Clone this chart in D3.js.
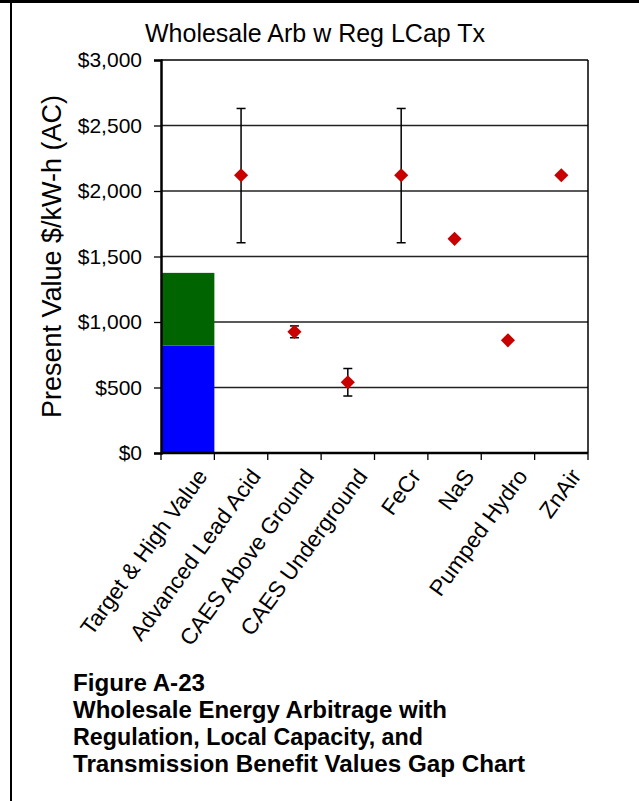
<!DOCTYPE html>
<html><head><meta charset="utf-8">
<script src="https://cdn.jsdelivr.net/npm/d3@7"></script>
<style>
html,body{margin:0;padding:0;background:#fff;}
svg{display:block;font-family:"Liberation Sans",Arial,sans-serif;}
</style></head>
<body>
<script>
// ---- data ----
const chartTitle = "Wholesale Arb w Reg LCap Tx";
const yAxisTitle = "Present Value $/kW-h  (AC)";
const categories = ["Target & High Value","Advanced Lead Acid","CAES Above Ground","CAES Underground","FeCr","NaS","Pumped Hydro","ZnAir"];
const targetValue = [820, null, null, null, null, null, null, null];      // blue segment
const highValueIncrement = [555, null, null, null, null, null, null, null]; // green segment
const pointValues = [null, 2120, 925, 540, 2120, 1635, 860, 2120];
const errLow  = [null, 1605, 880, 435, 1605, null, null, null];
const errHigh = [null, 2630, 970, 645, 2630, null, null, null];
const yTicks = [0, 500, 1000, 1500, 2000, 2500, 3000];
const captionLines = ["Figure A-23","Wholesale Energy Arbitrage with","Regulation, Local Capacity, and","Transmission Benefit Values Gap Chart"];

// ---- layout ----
const W = 639, H = 801;
const plot = {left:161, right:588, top:60, bottom:453};

const svg = d3.select("body").append("svg").attr("width", W).attr("height", H);

// outer frame lines
svg.append("line").attr("x1",0).attr("x2",W).attr("y1",1.5).attr("y2",1.5).attr("stroke","#000").attr("stroke-width",3);
svg.append("line").attr("x1",11).attr("x2",11).attr("y1",0).attr("y2",H).attr("stroke","#000").attr("stroke-width",2);

const x = d3.scaleBand().domain(categories).range([plot.left, plot.right]).paddingInner(0).paddingOuter(0);
const y = d3.scaleLinear().domain([0, 3000]).range([plot.bottom, plot.top]);

// gridlines
svg.append("g").selectAll("line").data(yTicks.filter(v => v > 0 && v < 3000)).join("line")
  .attr("x1", plot.left).attr("x2", plot.right)
  .attr("y1", d => y(d)).attr("y2", d => y(d))
  .attr("stroke", "#222").attr("stroke-width", 1.4);

// bars (stacked)
const barData = categories.map((c,i) => ({c, a: targetValue[i], b: highValueIncrement[i]})).filter(d => d.a != null);
svg.append("g").selectAll("rect.blue").data(barData).join("rect")
  .attr("x", d => x(d.c)).attr("width", x.bandwidth())
  .attr("y", d => y(d.a)).attr("height", d => y(0) - y(d.a))
  .attr("fill", "#0000ff");
svg.append("g").selectAll("rect.green").data(barData).join("rect")
  .attr("x", d => x(d.c)).attr("width", x.bandwidth())
  .attr("y", d => y(d.a + d.b)).attr("height", d => y(d.a) - y(d.a + d.b))
  .attr("fill", "#006400");

// plot border top/right
svg.append("line").attr("x1", plot.left).attr("x2", plot.right).attr("y1", y(3000)).attr("y2", y(3000)).attr("stroke","#000").attr("stroke-width",1.5);
svg.append("line").attr("x1", plot.right).attr("x2", plot.right).attr("y1", plot.top).attr("y2", plot.bottom).attr("stroke","#000").attr("stroke-width",1.5);

// y axis
const yAxis = d3.axisLeft(y).tickValues(yTicks).tickSize(7).tickPadding(12).tickFormat(d => "$" + d3.format(",")(d));
const gy = svg.append("g").attr("transform", `translate(${plot.left},0)`).call(yAxis);
gy.select(".domain").attr("stroke","#000").attr("stroke-width",2.5);
gy.selectAll(".tick line").attr("stroke","#000").attr("stroke-width",1.3);
gy.selectAll(".tick text").attr("font-size", 21).attr("fill","#000").attr("font-family","Liberation Sans, Arial, sans-serif");

// x axis
const xTickPos = categories.map(c => x(c)).concat([plot.right]);
const gx = svg.append("g");
gx.append("line").attr("x1", plot.left).attr("x2", plot.right).attr("y1", plot.bottom).attr("y2", plot.bottom).attr("stroke","#000").attr("stroke-width",2.5);
gx.selectAll("line.tk").data(xTickPos).join("line").attr("class","tk")
  .attr("x1", d => d).attr("x2", d => d).attr("y1", plot.bottom).attr("y2", plot.bottom + 7)
  .attr("stroke","#000").attr("stroke-width",1.3);
gx.selectAll("text").data(categories).join("text")
  .attr("transform", d => `translate(${x(d) + x.bandwidth()/2 + 8},${plot.bottom + 14}) rotate(-54)`)
  .attr("text-anchor","end").attr("dy","0.7em")
  .attr("font-size", 22.5).attr("fill","#000")
  .text(d => d);

// error bars
const errData = categories.map((c,i) => ({c, lo: errLow[i], hi: errHigh[i]})).filter(d => d.lo != null);
const eg = svg.append("g").attr("stroke","#000").attr("stroke-width",1.5);
eg.selectAll("line.v").data(errData).join("line").attr("class","v")
  .attr("x1", d => x(d.c) + x.bandwidth()/2).attr("x2", d => x(d.c) + x.bandwidth()/2)
  .attr("y1", d => y(d.lo)).attr("y2", d => y(d.hi));
eg.selectAll("line.hi").data(errData).join("line").attr("class","hi")
  .attr("x1", d => x(d.c) + x.bandwidth()/2 - 4.5).attr("x2", d => x(d.c) + x.bandwidth()/2 + 4.5)
  .attr("y1", d => y(d.hi)).attr("y2", d => y(d.hi));
eg.selectAll("line.lo").data(errData).join("line").attr("class","lo")
  .attr("x1", d => x(d.c) + x.bandwidth()/2 - 4.5).attr("x2", d => x(d.c) + x.bandwidth()/2 + 4.5)
  .attr("y1", d => y(d.lo)).attr("y2", d => y(d.lo));

// points (diamonds)
const ptData = categories.map((c,i) => ({c, v: pointValues[i]})).filter(d => d.v != null);
svg.append("g").selectAll("path").data(ptData).join("path")
  .attr("d", d3.symbol(d3.symbolSquare, 100))
  .attr("transform", d => `translate(${x(d.c) + x.bandwidth()/2},${y(d.v)}) rotate(45)`)
  .attr("fill", "#c80000");

// chart title
svg.append("text").attr("x", 315).attr("y", 42).attr("text-anchor","middle")
  .attr("font-size", 25).attr("fill","#000").text(chartTitle);

// y axis title
svg.append("text").attr("transform", `translate(61,${(plot.top+plot.bottom)/2}) rotate(-90)`)
  .attr("text-anchor","middle").attr("font-size", 27).attr("fill","#000").text(yAxisTitle);

// caption
const capWidths = [132, 374, 350, 452];
svg.append("g").selectAll("text").data(captionLines).join("text")
  .attr("x", 73).attr("y", (d,i) => 691 + i*27)
  .attr("font-size", 23).attr("font-weight","bold").attr("fill","#000")
  .attr("textLength", (d,i) => capWidths[i]).attr("lengthAdjust","spacingAndGlyphs")
  .text(d => d);
</script>
</body></html>
